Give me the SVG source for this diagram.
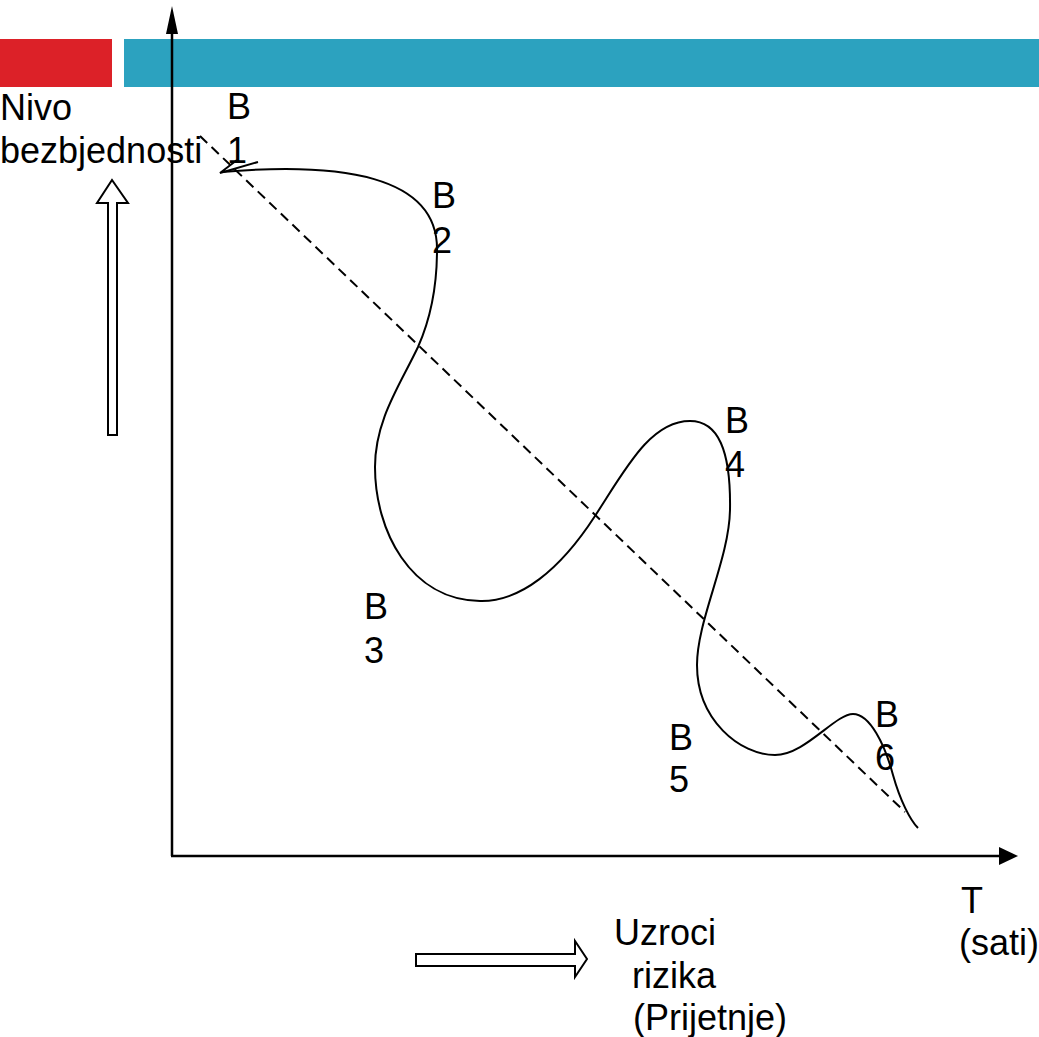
<svg xmlns="http://www.w3.org/2000/svg" width="1039" height="1037" viewBox="0 0 1039 1037">
<style>
.t{font-family:"Liberation Sans",Arial,sans-serif;font-size:36px;fill:#000}
.ax{stroke:#000;stroke-width:2.5;fill:none}
.curve{stroke:#000;stroke-width:2;fill:none}
.dash{stroke:#000;stroke-width:2;fill:none;stroke-dasharray:10 6}
.hollow{fill:#fff;stroke:#000;stroke-width:2}
</style>
<rect width="1039" height="1037" fill="#fff"/>
<g id="bars">
<rect x="0" y="39" width="112" height="48" fill="#DC2128"/>
<rect x="124" y="39" width="915" height="48" fill="#2CA2BF"/>
</g>
<g id="connectors">
<line class="ax" x1="172" y1="856" x2="172" y2="30"/>
<path d="M172,6 L166,34 L178,34 Z" fill="#000"/>
<line class="ax" x1="171" y1="856" x2="1000" y2="856"/>
<path d="M1018,856 L999,847 L999,865 Z" fill="#000"/>
<line class="dash" x1="200" y1="136" x2="905" y2="812"/>
<path class="curve" d="M222,172 C340,162 438,175 437,250 C437,290 430,320 418,347 C400,385 375,420 375,467 C375,530 410,600 480,601 C520,602 560,570 595,516 C625,470 650,421 690,421 C718,421 731,450 730,510 C729,560 697,620 697,665 C697,720 740,755 775,755 C805,755 835,714 853,714 C870,714 885,745 893,775 C900,800 910,820 918,828"/>
<path class="curve" d="M258,162 L220,173 L237,160"/>
</g>
<g id="up-arrow">
<path class="hollow" d="M108,435 L108,203 L97,203 L112,180 L128,203 L117,203 L117,435 Z"/>
</g>
<g id="right-arrow">
<path class="hollow" d="M416,954 L575,954 L575,941 L587,959 L575,977 L575,966 L416,966 Z"/>
</g>
<g id="labels">
<text class="t" x="0" y="120">Nivo</text>
<text class="t" x="0" y="163">bezbjednosti</text>
</g>
<g id="B1"><text class="t" x="227" y="119">B</text><text class="t" x="227" y="163">1</text></g>
<g id="B2"><text class="t" x="432" y="208">B</text><text class="t" x="432" y="253">2</text></g>
<g id="B3"><text class="t" x="364" y="619">B</text><text class="t" x="364" y="663">3</text></g>
<g id="B4"><text class="t" x="725" y="433">B</text><text class="t" x="725" y="477">4</text></g>
<g id="B5"><text class="t" x="669" y="750">B</text><text class="t" x="669" y="792">5</text></g>
<g id="B6"><text class="t" x="875" y="727">B</text><text class="t" x="875" y="770">6</text></g>
<g id="T"><text class="t" x="961" y="913">T</text><text class="t" x="959" y="955">(sati)</text></g>
<g id="uzroci">
<text class="t" x="614" y="945">Uzroci</text>
<text class="t" x="632" y="988">rizika</text>
<text class="t" x="633" y="1030">(Prijetnje)</text>
</g>
</svg>
